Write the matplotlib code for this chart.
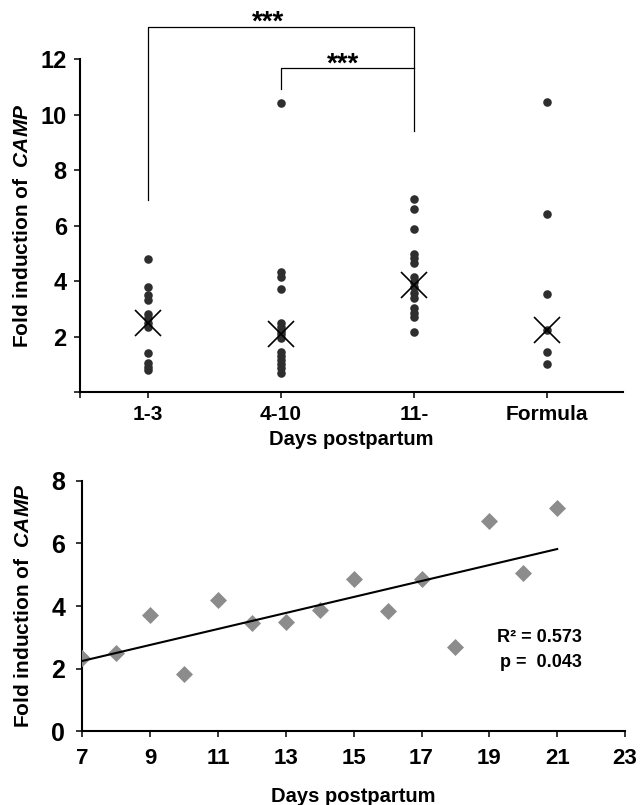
import numpy as np
import matplotlib
matplotlib.use("Agg")
import matplotlib.pyplot as plt

plt.rcParams['font.family'] = ['Liberation Sans', 'DejaVu Sans']
plt.rcParams['font.weight'] = 'bold'
plt.rcParams['axes.labelweight'] = 'bold'
plt.rcParams['mathtext.fontset'] = 'custom'
plt.rcParams['mathtext.it'] = 'Liberation Sans:italic'
plt.rcParams['mathtext.rm'] = 'Liberation Sans'

# top panel: fold induction by group
groups = ['1-3', '4-10', '11-', 'Formula']
early = [4.8, 3.8, 3.5, 3.3, 2.8, 2.65, 2.5, 2.35, 1.4, 1.05, 0.92, 0.78]
mid = [10.4, 4.31, 4.13, 3.71, 2.5, 2.35, 2.2, 2.1, 1.95,
       1.45, 1.3, 1.15, 1.0, 0.85, 0.68]
late = [6.95, 6.58, 5.88, 4.98, 4.83, 4.64, 4.15, 3.97, 3.79,
        3.56, 3.38, 3.02, 2.84, 2.69, 2.15]
formula = [10.44, 6.41, 3.54, 2.23, 1.44, 1.0]
centers = [2.5, 2.1, 3.86, 2.23]

# bottom panel: fold induction vs day
days = [7, 8, 9, 10, 11, 12, 13, 14, 15, 16, 17, 18, 19, 20, 21]
camp = [2.33, 2.49, 3.71, 1.81, 4.19, 3.47, 3.50, 3.87, 4.85,
        3.85, 4.85, 2.68, 6.72, 5.05, 7.13]

ylab = 'Fold induction of  $\\mathit{CAMP}$'

fig = plt.figure(figsize=(6.41, 8.05), dpi=100)

# ---- top ----
ax1 = fig.add_axes([0.1248, 0.513, 0.847, 0.4137])
for i, vals in enumerate([early, mid, late, formula]):
    ax1.scatter([i + 1] * len(vals), vals, s=38, color='#2e2e2e',
                zorder=3, linewidths=0)
ax1.plot(range(1, 5), centers, linestyle='none', marker='x',
         markersize=19, mew=1.2, color='black', zorder=4)

ax1.set_xlim(0.489, 4.571)
ax1.set_ylim(0, 12)
ax1.set_yticks(range(0, 13, 2))
ax1.set_yticklabels([''] + [str(v) for v in range(2, 13, 2)], fontsize=17)
ax1.set_xticks(range(1, 5))
ax1.set_xticklabels(groups, fontsize=15)
ax1.set_xticks([0.489], minor=True)
for s in ['top', 'right']:
    ax1.spines[s].set_visible(False)
for s in ['left', 'bottom']:
    ax1.spines[s].set_linewidth(1.5)
ax1.tick_params(axis='y', length=4.5, width=1.1, pad=5)
ax1.tick_params(axis='x', which='both', length=4.5, width=1.1, pad=5)
ax1.set_xlabel('Days postpartum', fontsize=14.5)
ax1.xaxis.set_label_coords(0.5, -0.113)
ax1.set_ylabel(ylab, fontsize=15)
ax1.yaxis.set_label_coords(-0.088, 0.5)

# significance brackets
ax1.plot([1, 1, 3, 3], [6.92, 13.15, 13.15, 9.41], color='black',
         lw=0.9, clip_on=False)
ax1.plot([2, 2, 3, 3], [10.92, 11.68, 11.68, 11.68], color='black',
         lw=0.9, clip_on=False)
ax1.text(1.9, 13.05, '***', ha='center', va='baseline', fontsize=20,
         clip_on=False)
ax1.text(2.47, 11.55, '***', ha='center', va='baseline', fontsize=20,
         clip_on=False)

# ---- bottom ----
ax2 = fig.add_axes([0.1287, 0.0919, 0.8463, 0.3106])
ax2.scatter(days, camp, marker='D', s=75, color='#8c8c8c',
            linewidths=0, zorder=3)
slope, icept = np.polyfit(days, camp, 1)
xs = np.array([days[0], days[-1]])
ax2.plot(xs, slope * xs + icept, color='black', lw=1.5, zorder=4)

ax2.set_xlim(7, 23)
ax2.set_ylim(0, 8)
ax2.set_xticks(range(7, 24, 2))
ax2.set_yticks(range(0, 9, 2))
ax2.tick_params(axis='x', labelsize=16, length=4.5, width=1.1, pad=8)
ax2.tick_params(axis='y', labelsize=18, length=4.5, width=1.1, pad=8)
for s in ['top', 'right']:
    ax2.spines[s].set_visible(False)
for s in ['left', 'bottom']:
    ax2.spines[s].set_linewidth(1.5)
ax2.set_xlabel('Days postpartum', fontsize=14.5)
ax2.xaxis.set_label_coords(0.5, -0.225)
ax2.set_ylabel(ylab, fontsize=15)
ax2.yaxis.set_label_coords(-0.091, 0.5)

ax2.text(21.73, 2.99, 'R² = 0.573', ha='right', va='center', fontsize=13)
ax2.text(21.73, 2.18, 'p =  0.043', ha='right', va='center', fontsize=13)

fig.savefig('out.png', dpi=100)
